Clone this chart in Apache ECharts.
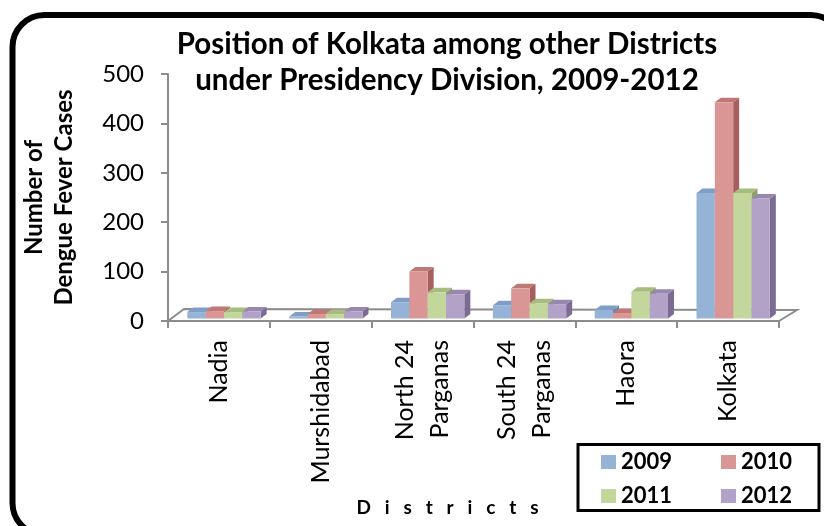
<!DOCTYPE html>
<html>
<head>
<meta charset="utf-8">
<title>Dengue fever cases, Presidency Division</title>
<script src="https://cdn.jsdelivr.net/npm/echarts@6/dist/echarts.min.js"></script>
<style>
  html, body { margin: 0; padding: 0; background: #ffffff; }
  #chart { width: 824px; height: 526px; }
</style>
</head>
<body>
<div id="chart"></div>
<script>
// Districts on the category axis
var districts = ['Nadia', 'Murshidabad', 'North 24\nParganas', 'South 24\nParganas', 'Haora', 'Kolkata'];
// Years shown as series
var years = ['2009', '2010', '2011', '2012'];
// Reported dengue fever cases per district
var cases2009 = [13, 4, 33, 27, 17, 254];
var cases2010 = [15, 9, 95, 61, 11, 438];
var cases2011 = [13, 9, 53, 31, 54, 254];
var cases2012 = [14, 14, 49, 29, 50, 243];
// Value axis ticks
var yTicks = [0, 100, 200, 300, 400, 500];

var seriesValues = [cases2009, cases2010, cases2011, cases2012];

// Face colours for the pseudo-3D columns: front, side, top
var faceColors = [
  { front: '#95B3D7', side: '#6C88AE', top: '#7F9DC6' },
  { front: '#D99694', side: '#A5605E', top: '#BF7876' },
  { front: '#C3D69B', side: '#8FA266', top: '#A9BC80' },
  { front: '#B3A2C7', side: '#7C6C93', top: '#9887AF' }
];

var FONT = 'Lato, "Open Sans", sans-serif';
var DEPTH_X = 6, DEPTH_Y = -4.5;   // column depth
var LIFT = 2.5;                   // columns sit slightly behind the front edge of the floor

function columnRenderer(seriesIdx) {
  return function (params, api) {
    var cat = api.value(0);
    var val = api.value(1);
    var base = api.coord([cat, 0]);
    var topPt = api.coord([cat, val]);
    var bw = api.size([1, 0])[0];
    var w = bw * 0.18;
    var x0 = base[0] - bw / 2 + bw * (0.19 + seriesIdx * 0.18);
    var yb = base[1] - LIFT;
    var yt = topPt[1] - LIFT;
    var c = faceColors[seriesIdx];
    return {
      type: 'group',
      children: [
        { type: 'polygon', shape: { points: [[x0 + w, yt], [x0 + w + DEPTH_X, yt + DEPTH_Y], [x0 + w + DEPTH_X, yb + DEPTH_Y], [x0 + w, yb]] },
          style: { fill: c.side } },
        { type: 'polygon', shape: { points: [[x0, yt], [x0 + DEPTH_X, yt + DEPTH_Y], [x0 + w + DEPTH_X, yt + DEPTH_Y], [x0 + w, yt]] },
          style: { fill: c.top } },
        { type: 'rect', shape: { x: x0, y: yt, width: w, height: yb - yt },
          style: { fill: c.front } }
      ]
    };
  };
}

// Floor outline behind the columns
function floorRenderer(params, api) {
  var n = districts.length;
  var bw = api.size([1, 0])[0];
  var first = api.coord([0, 0]);
  var last = api.coord([n - 1, 0]);
  var xl = first[0] - bw / 2, xr = last[0] + bw / 2, y = first[1];
  return {
    type: 'polyline',
    shape: { points: [[xl, y], [xl + 16, y - 12], [xr + 18, y - 11], [xr, y]] },
    style: { stroke: '#8C8C8C', lineWidth: 2, fill: null }
  };
}

var series = [{
  type: 'custom',
  name: 'floor',
  renderItem: floorRenderer,
  data: [[0, 0]],
  silent: true,
  z: 1
}];
years.forEach(function (yr, i) {
  series.push({
    type: 'custom',
    name: yr,
    renderItem: columnRenderer(i),
    data: seriesValues[i].map(function (v, k) { return [k, v]; }),
    itemStyle: { color: faceColors[i].front },
    z: 2 + i
  });
});

var chart = echarts.init(document.getElementById('chart'), null, { renderer: 'canvas' });
chart.setOption({
  animation: false,
  backgroundColor: '#ffffff',
  title: {
    text: 'Position of Kolkata among other Districts\nunder Presidency Division, 2009-2012',
    left: 447,
    top: 26,
    textAlign: 'center',
    padding: 0,
    textStyle: { fontFamily: FONT, fontSize: 29.5, fontWeight: 'bold', color: '#000', lineHeight: 36 }
  },
  grid: { left: 168, right: 45, top: 74, bottom: 205 },
  legend: {
    data: years,
    left: 601,
    top: 450,
    width: 236,
    padding: 0,
    itemGap: 10,
    itemWidth: 15,
    itemHeight: 14,
    icon: 'rect',
    textStyle: { fontFamily: FONT, fontSize: 22, fontWeight: 'bold', color: '#000', lineHeight: 24, width: 90 }
  },
  xAxis: {
    type: 'category',
    data: districts,
    name: 'D   i   s   t   r   i   c   t   s',
    nameLocation: 'middle',
    nameGap: 177,
    nameTextStyle: { fontFamily: FONT, fontSize: 19, fontWeight: 'bold', color: '#000', padding: [0, 52, 0, 0] },
    axisLine: { show: true, lineStyle: { color: '#8C8C8C', width: 2 } },
    axisTick: { show: true, length: 7, lineStyle: { color: '#8C8C8C', width: 2 } },
    axisLabel: { interval: 0, rotate: 90, margin: 19, fontFamily: FONT, fontSize: 25, color: '#000', lineHeight: 35 },
    splitLine: { show: false }
  },
  yAxis: {
    type: 'value',
    min: yTicks[0],
    max: yTicks[yTicks.length - 1],
    interval: yTicks[1] - yTicks[0],
    name: 'Number of\nDengue Fever Cases',
    nameLocation: 'middle',
    nameRotate: 90,
    nameGap: 89,
    nameTextStyle: { fontFamily: FONT, fontSize: 24, fontWeight: 'bold', color: '#000', lineHeight: 30 },
    axisLine: { show: true, lineStyle: { color: '#8C8C8C', width: 2 } },
    axisTick: { show: true, length: 7, lineStyle: { color: '#8C8C8C', width: 2 } },
    axisLabel: { margin: 24, fontFamily: FONT, fontSize: 24, color: '#000', padding: [6, 0, 0, 0] },
    splitLine: { show: false }
  },
  graphic: [
    { type: 'rect', silent: true, z: 100,
      shape: { x: 12.5, y: 15, width: 830, height: 520, r: 32 },
      style: { fill: null, stroke: '#000', lineWidth: 6 } },
    { type: 'rect', silent: true, z: 100,
      shape: { x: 578, y: 444.5, width: 241, height: 66 },
      style: { fill: null, stroke: '#000', lineWidth: 3 } }
  ],
  series: series
});
</script>
</body>
</html>
